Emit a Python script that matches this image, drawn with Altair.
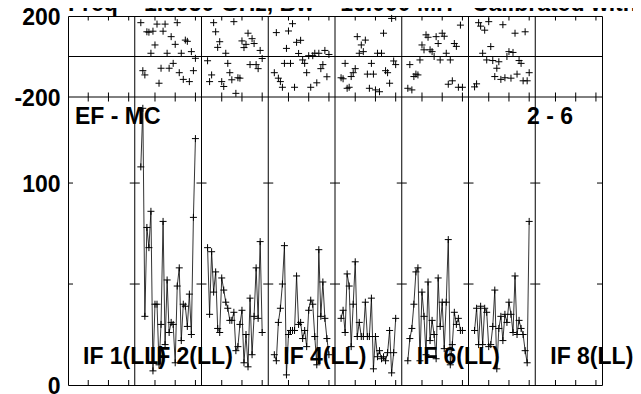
import altair as alt
import pandas as pd

# ---------------- data ----------------
title_text = "Freq = 1.5950 GHz, Bw = 16.000 MH\u00a0\u00a0\u00a0Calibrated with"
baseline_text = "EF - MC"
stokes_text = "2 - 6"

chans_per_if = 33          # x slots per IF panel
n_ifs = 8
channels = list(range(3, 31))
if_numbers = [2, 3, 4, 5, 6, 7]

amp_if2 = [108, 137, 34, 78, 68, 86, 7, 40, 40, 10, 30, 81, 20, 52, 26, 31, 30, 11, 49, 58, 22, 40, 39, 29, 45, 25, 83, 122]
amp_if3 = [68, 35, 66, 46, 56, 28, 26, 53, 47, 41, 38, 32, 32, 36, 17, 19, 30, 37, 11, 25, 9, 43, 15, 34, 58, 33, 71, 26]
amp_if4 = [15, 12, 31, 38, 50, 69, 5, 25, 27, 27, 27, 54, 30, 31, 23, 27, 19, 37, 42, 40, 24, 10, 67, 34, 51, 33, 23, 15]
amp_if5 = [33, 37, 26, 55, 49, 19, 40, 61, 24, 31, 24, 24, 41, 24, 24, 43, 8, 24, 14, 17, 13, 14, 12, 16, 27, 6, 16, 33]
amp_if6 = [12, 23, 28, 40, 56, 58, 12, 46, 34, 15, 51, 22, 32, 25, 13, 53, 29, 41, 18, 41, 72, 10, 20, 36, 30, 33, 27, 27]
amp_if7 = [27, 38, 20, 39, 20, 38, 36, 19, 20, 29, 47, 8, 28, 34, 22, 35, 31, 41, 35, 26, 54, 25, 32, 28, 25, 17, 11, 81]

ph_if2 = [167, -70, -91, 122, 120, 16, 125, 57, 160, -132, -58, 125, 160, 16, -58, 98, -34, 60, 167, -80, 16, -113, 81, 75, -124, 24, -70, -9]
ph_if3 = [-21, -124, -91, 167, 122, 45, 73, -124, -148, 16, -34, -80, -115, 172, -182, -105, -107, 77, 44, 60, 115, -40, 88, 64, -40, -60, 30, -10]
ph_if4 = [-80, 118, -107, -124, -152, -34, 40, 126, -34, 162, -152, 70, 15, 80, -17, -34, -80, 4, -152, 4, 16, -130, 16, -60, -40, 30, -100, 10]
ph_if5 = [-105, -110, -34, -157, -152, -99, -80, -60, 98, 16, 57, 24, 81, -87, -157, -34, -87, -165, 16, -174, 16, 115, -70, -80, -132, 188, -22, -40]
ph_if6 = [-157, -40, -165, -99, -87, -91, -17, 57, 33, 107, 95, 33, 24, 0, 98, 64, -17, 115, 100, 16, -137, -17, -120, 64, 50, -152, 155, -152]
ph_if7 = [-150, -135, 167, 150, 16, 130, -17, 172, 49, -20, -99, -58, -26, -113, 157, -105, 0, 24, -107, 20, 115, -87, -20, -34, -120, 122, -120, -80]

if_label_nums = [1, 2, 4, 6, 8]
if_label_texts = ["IF 1(LL)", "IF 2(LL)", "IF 4(LL)", "IF 6(LL)", "IF 8(LL)"]

tick_chans = [10, 20, 30]
amp_tick_values = [50, 100]

# ---------------- tables ----------------
amp_lists = [amp_if2, amp_if3, amp_if4, amp_if5, amp_if6, amp_if7]
ph_lists = [ph_if2, ph_if3, ph_if4, ph_if5, ph_if6, ph_if7]
rows = []
for n, amps, phs in zip(if_numbers, amp_lists, ph_lists):
    for ch, a, p in zip(channels, amps, phs):
        rows.append({"IF": n, "chan": ch, "pos": (n - 1) * chans_per_if + ch, "amp": a, "phase": p})
df = pd.DataFrame(rows)

xticks = pd.DataFrame({"pos": [i * chans_per_if + c for i in range(n_ifs) for c in tick_chans]})
inner_bounds = pd.DataFrame({"pos": [i * chans_per_if for i in range(1, n_ifs)]})
ytick_rows = pd.DataFrame([{"pos": i * chans_per_if, "amp": v} for i in range(n_ifs + 1) for v in amp_tick_values])
labels_df = pd.DataFrame({"pos": [(n - 1) * chans_per_if for n in if_label_nums], "label": if_label_texts})
one = pd.DataFrame({"a": [0]})

FONT = "Liberation Sans"
W, H = 534, 369
PH_H = 81

xs = alt.Scale(domain=[0, n_ifs * chans_per_if], nice=False, zero=False)
X = lambda: alt.X("pos:Q", scale=xs, axis=None)

ph_scale = alt.Scale(domain=[-200, 200], range=[PH_H, 0], nice=False, zero=False)
amp_scale = alt.Scale(domain=[0, 142.6], range=[H, PH_H], nice=False, zero=False)

axis_common = dict(
    orient="left", domain=False, ticks=False, grid=False, title=None,
    labelFont=FONT, labelFontWeight="bold", labelFontSize=23, labelColor="black",
    labelPadding=8, labelOffset=1.5, labelBaseline="middle",
    labelExpr="'' + datum.value",
)
ph_axis = alt.Axis(values=[200, -200], **axis_common)
amp_axis = alt.Axis(values=[0, 100], **axis_common)

cross = "M-1,0L1,0M0,-1L0,1"

# ---------------- phase panel ----------------
ph_points = alt.Chart(df).mark_point(shape=cross, size=49, filled=False, stroke="black",
                                     strokeWidth=1, opacity=1).encode(
    x=X(), y=alt.Y("phase:Q", scale=ph_scale, axis=ph_axis))
ph_zero = alt.Chart(one).mark_rule(color="black", strokeWidth=1).encode(y=alt.datum(0))
ph_div = alt.Chart(one).mark_rule(color="black", strokeWidth=1).encode(y=alt.datum(-200))
ph_top_ticks = alt.Chart(xticks).mark_tick(orient="vertical", size=9, thickness=1, color="black",
                                          clip=True, opacity=1).encode(x=X(), y=alt.datum(200))
ph_bot_ticks = alt.Chart(xticks).mark_tick(orient="vertical", size=9, thickness=1, color="black",
                                          clip=True, opacity=1).encode(x=X(), y=alt.datum(-200))
phase_layer = alt.layer(ph_zero, ph_div, ph_top_ticks, ph_bot_ticks, ph_points)

# ---------------- amplitude panel ----------------
amp_line = alt.Chart(df).mark_line(color="black", strokeWidth=0.8).encode(
    x=X(), y=alt.Y("amp:Q", scale=amp_scale, axis=amp_axis), detail="IF:N", order="pos:Q")
amp_points = alt.Chart(df).mark_point(shape=cross, size=49, filled=False, stroke="black",
                                      strokeWidth=1, opacity=1).encode(
    x=X(), y=alt.Y("amp:Q", scale=amp_scale, axis=amp_axis))
amp_bot_ticks = alt.Chart(xticks).mark_tick(orient="vertical", size=10, thickness=1, color="black",
                                           clip=True, opacity=1).encode(x=X(), y=alt.datum(0))
amp_y_ticks = alt.Chart(ytick_rows).mark_tick(orient="horizontal", size=10, thickness=1, color="black",
                                             clip=True, opacity=1).encode(
    x=X(), y=alt.Y("amp:Q", scale=amp_scale, axis=amp_axis))
separators = alt.Chart(inner_bounds).mark_rule(color="black", strokeWidth=1).encode(x=X())
if_labels = alt.Chart(labels_df).mark_text(font=FONT, fontWeight="bold", fontSize=23, align="left",
                                           baseline="alphabetic", dx=15, color="black").encode(
    x=X(), y=alt.value(348), text="label:N")
amp_layer = alt.layer(separators, amp_bot_ticks, amp_y_ticks, amp_line, amp_points, if_labels)

# ---------------- free text ----------------
title_mark = alt.Chart(one).mark_text(font=FONT, fontWeight="bold", fontSize=23, align="left",
                                      baseline="alphabetic", color="black", text=title_text).encode(
    x=alt.value(0), y=alt.value(-5))
bl_mark = alt.Chart(one).mark_text(font=FONT, fontWeight="bold", fontSize=23, align="left",
                                   baseline="alphabetic", color="black", text=baseline_text).encode(
    x=alt.value(7), y=alt.value(108))
st_mark = alt.Chart(one).mark_text(font=FONT, fontWeight="bold", fontSize=23, align="right",
                                   baseline="alphabetic", color="black", text=stokes_text).encode(
    x=alt.value(505), y=alt.value(108))

chart = alt.layer(phase_layer, amp_layer, title_mark, bl_mark, st_mark).resolve_scale(
    y="independent"
).properties(
    width=W, height=H,
    autosize=alt.AutoSizeParams(type="none"),
    padding={"left": 60, "top": 8, "right": 31, "bottom": 9},
    background="white",
).configure_view(stroke="black", strokeWidth=1)

chart.save("out.html", embed_options={"renderer": "svg", "actions": False})
